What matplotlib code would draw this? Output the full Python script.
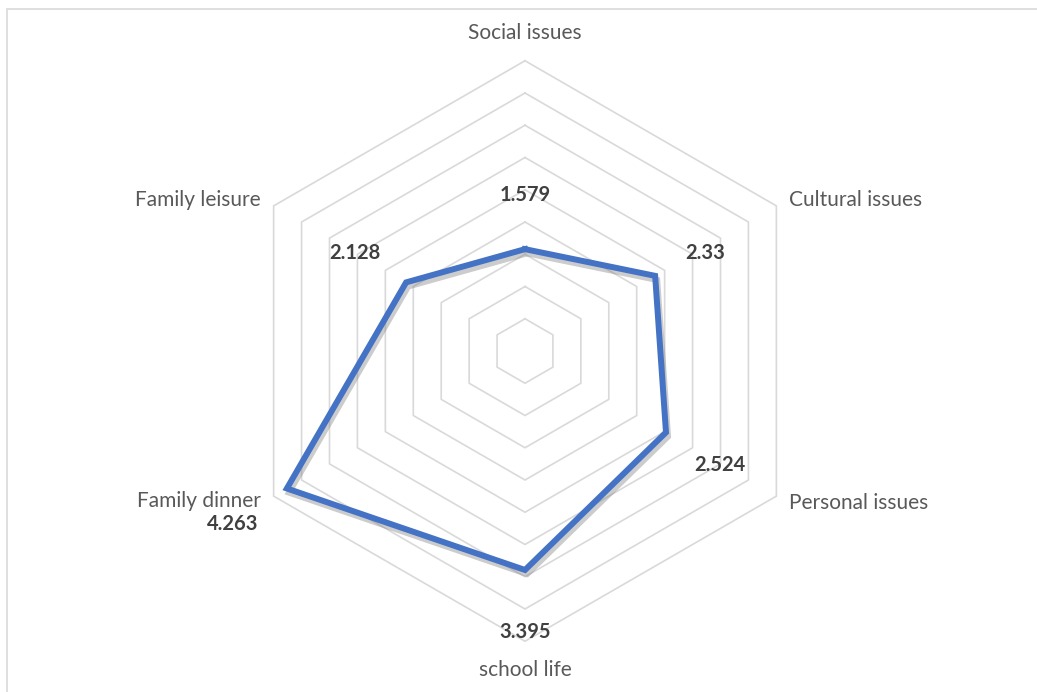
import numpy as np
import matplotlib
matplotlib.use('Agg')
import matplotlib.pyplot as plt
import matplotlib.patheffects as pe
from matplotlib.patches import Rectangle

categories = ['Social issues', 'Cultural issues', 'Personal issues',
              'school life', 'Family dinner', 'Family leisure']
values = [1.579, 2.33, 2.524, 3.395, 4.263, 2.128]
value_labels = ['1.579', '2.33', '2.524', '3.395', '4.263', '2.128']
grid_levels = [0.5, 1.0, 1.5, 2.0, 2.5, 3.0, 3.5, 4.0, 4.5]

# pixel offsets for data labels and category labels
label_offsets = [(0, 54), (50, 23), (54, -33), (0, -62), (-54, -36), (-51, 29)]
cat_offsets = [(0, 28), (13, 6), (13, -7), (0, -29), (-13, -5), (-13, 6)]
cat_ha = ['center', 'left', 'left', 'center', 'right', 'right']

plt.rcParams['font.family'] = ['Lato', 'DejaVu Sans']

W, H = 1037, 692
cx, cy = 525, 351   # centre in pixels from top-left
k = 64.5            # pixels per unit

fig = plt.figure(figsize=(W / 100, H / 100), dpi=100)
ax = fig.add_axes([0, 0, 1, 1])
ax.set_xlim(-cx / k, (W - cx) / k)
ax.set_ylim(-(H - cy) / k, cy / k)
ax.axis('off')

fig.patches.append(Rectangle((7 / W, -0.1), 1.2, 1 - 9 / H + 0.1, transform=fig.transFigure,
                             fill=False, edgecolor='#D9D9D9', linewidth=1.2))

theta = np.pi / 2 - np.arange(len(categories)) * 2 * np.pi / len(categories)
tc = np.append(theta, theta[0])

for lev in grid_levels:
    ax.plot(lev * np.cos(tc), lev * np.sin(tc), color='#D9D9D9', linewidth=1.2, zorder=1)

v = np.append(values, values[0])
ax.plot(v * np.cos(tc), v * np.sin(tc), color='#4472C4', linewidth=4.3,
        solid_joinstyle='miter', zorder=3,
        path_effects=[pe.SimpleLineShadow(offset=(1.5, -3), shadow_color='gray', alpha=0.4),
                      pe.Normal()])

for i in range(len(categories)):
    x, y = values[i] * np.cos(theta[i]), values[i] * np.sin(theta[i])
    ax.annotate(value_labels[i], (x, y), xytext=label_offsets[i], textcoords='offset pixels',
                ha='center', va='center', fontsize=14.5, fontweight='bold', color='#404040')
    ox, oy = 4.5 * np.cos(theta[i]), 4.5 * np.sin(theta[i])
    ax.annotate(categories[i], (ox, oy), xytext=cat_offsets[i], textcoords='offset pixels',
                ha=cat_ha[i], va='center', fontsize=15, color='#595959')

fig.savefig('out.png', dpi=100, facecolor='white')
